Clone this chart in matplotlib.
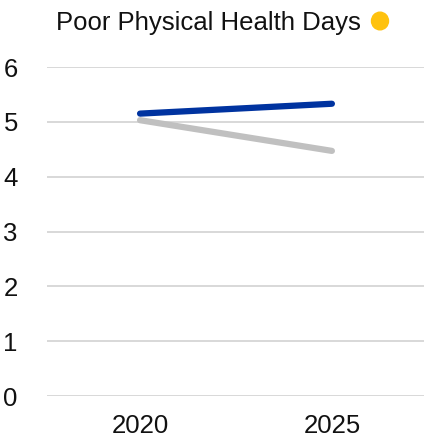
import matplotlib.pyplot as plt

YEARS = ['2020', '2025']
COUNTY = [5.15, 5.33]
STATE = [5.03, 4.47]
Y_TICKS = [0, 1, 2, 3, 4, 5, 6]

BLUE = '#0033a0'
GRAY = '#c0c0c0'
GOLD = '#ffc20e'


def main():
    plt.rcParams['font.family'] = ['Liberation Sans', 'DejaVu Sans']
    fig = plt.figure(figsize=(4.24, 4.40), dpi=100)
    ax = fig.add_axes([47 / 424, 44 / 440, 377 / 424, 329 / 440])

    x = range(len(YEARS))
    ax.plot(x, STATE, color=GRAY, lw=4.5, solid_capstyle='round')
    ax.plot(x, COUNTY, color=BLUE, lw=4.5, solid_capstyle='round')

    ax.set_xlim(-0.485, 1.48)
    ax.set_ylim(0, 6)
    ax.set_xticks(list(x))
    ax.set_xticklabels(YEARS)
    ax.set_yticks(Y_TICKS)
    ax.tick_params(length=0, labelsize=18.5, colors='#111111')
    ax.tick_params(axis='y', pad=21)
    ax.tick_params(axis='x', pad=13)
    ax.grid(axis='y', color='#d6d6d6', lw=1.3)
    ax.set_axisbelow(True)
    for s in ax.spines.values():
        s.set_visible(False)

    fig.text(208 / 424, 1 - 23 / 440, 'Poor Physical Health Days', ha='center', va='center',
             fontsize=18.5, color='#111111')
    fig.add_artist(plt.Circle((380 / 424, 1 - 21 / 440), 8.5 / 424, color=GOLD,
                              transform=fig.transFigure))

    fig.savefig('out.png', dpi=100)


if __name__ == "__main__":
    main()
